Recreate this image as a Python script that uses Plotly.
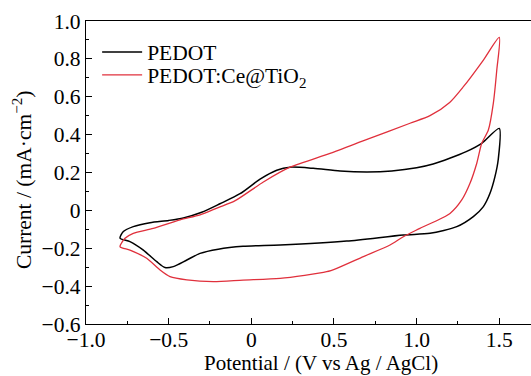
import plotly.graph_objects as go

# PEDOT cyclic voltammogram (loop order)
pedot_x = [-0.794, -0.774, -0.714, -0.613, -0.5, -0.411, -0.3, -0.19, -0.068, 0.053, 0.154, 0.234,
           0.375, 0.537, 0.7, 0.85, 1.0, 1.1, 1.2, 1.3, 1.394, 1.5,
           1.494, 1.474, 1.444, 1.404, 1.343, 1.243, 1.081, 0.92, 0.577, 0.174, -0.05,
           -0.2, -0.31, -0.39, -0.472, -0.522, -0.572, -0.653, -0.734, -0.794]
pedot_y = [-0.147, -0.112, -0.086, -0.065, -0.053, -0.04, -0.01, 0.035, 0.088, 0.165, 0.212, 0.228,
           0.222, 0.208, 0.203, 0.208, 0.225, 0.245, 0.275, 0.31, 0.354, 0.433,
           0.27, 0.178, 0.09, 0.02, -0.033, -0.086, -0.121, -0.13, -0.162, -0.183, -0.19,
           -0.205, -0.227, -0.262, -0.297, -0.302, -0.271, -0.21, -0.165, -0.147]

# PEDOT:Ce@TiO2 cyclic voltammogram (loop order)
ce_x = [-0.794, -0.764, -0.714, -0.593, -0.431, -0.31, -0.2, -0.1, 0.073, 0.234, 0.476, 0.7,
        0.96, 1.081, 1.2, 1.283, 1.404, 1.5,
        1.485, 1.464, 1.434, 1.394, 1.364, 1.323, 1.273, 1.202, 1.02, 0.92, 0.839, 0.678,
        0.517, 0.456, 0.174, -0.05, -0.23, -0.39, -0.492, -0.552, -0.633, -0.734, -0.794]
ce_y = [-0.192, -0.147, -0.121, -0.095, -0.05, -0.024, 0.015, 0.05, 0.15, 0.228, 0.301, 0.375,
        0.46, 0.5, 0.57, 0.653, 0.794, 0.914,
        0.741, 0.565, 0.424, 0.354, 0.249, 0.143, 0.055, -0.016, -0.095, -0.139, -0.183, -0.244,
        -0.306, -0.324, -0.359, -0.368, -0.376, -0.367, -0.35, -0.315, -0.253, -0.21, -0.192]

x_tickvals = [-1.0, -0.5, 0, 0.5, 1.0, 1.5]
x_ticktext = ["\u22121.0", "\u22120.5", "0", "0.5", "1.0", "1.5"]
x_minor = [-0.75, -0.25, 0.25, 0.75, 1.25]
y_tickvals = [-0.6, -0.4, -0.2, 0, 0.2, 0.4, 0.6, 0.8, 1.0]
y_ticktext = ["\u22120.6", "\u22120.4", "\u22120.2", "0", "0.2", "0.4", "0.6", "0.8", "1.0"]

x_title = "Potential / (V vs Ag / AgCl)"
y_title = "Current / (mA\u00b7cm<sup>\u22122</sup>)"

FONT = "Liberation Serif"
FS = 21.5

fig = go.Figure()
fig.add_trace(go.Scatter(x=pedot_x, y=pedot_y, mode="lines", name="PEDOT", legend="legend",
                         line=dict(color="black", width=1.5, shape="spline", smoothing=0.7)))
fig.add_trace(go.Scatter(x=ce_x, y=ce_y, mode="lines", name="PEDOT:Ce@TiO<sub>2</sub>", legend="legend2",
                         line=dict(color="#e0303c", width=1.3, shape="spline", smoothing=0.7)))

legend_common = dict(x=0.025, xanchor="left", yanchor="top", bgcolor="rgba(0,0,0,0)",
                     font=dict(family=FONT, size=FS), itemwidth=40)

fig.update_layout(
    width=531, height=376,
    margin=dict(l=86, r=0, t=21, b=52),
    plot_bgcolor="white", paper_bgcolor="white",
    font=dict(family=FONT, size=FS, color="black"),
    showlegend=True,
    legend=dict(y=0.965, **legend_common),
    legend2=dict(y=0.890, **legend_common),
    xaxis=dict(range=[-1.0, 1.692], tickvals=x_tickvals, ticktext=x_ticktext,
               showline=True, linecolor="black", linewidth=1.3, mirror=True,
               ticks="inside", ticklen=6, tickwidth=1, tickcolor="black",
               ticklabelstandoff=-4,
               minor=dict(tickvals=x_minor, ticks="inside", ticklen=3,
                          tickcolor="black", showgrid=False),
               showgrid=False, zeroline=False),
    yaxis=dict(range=[-0.6, 1.0], tickvals=y_tickvals, ticktext=y_ticktext,
               showline=True, linecolor="black", linewidth=1.3, mirror=False,
               ticks="inside", ticklen=6, tickwidth=1, tickcolor="black",
               minor=dict(dtick=0.1, ticks="inside", ticklen=3, tickcolor="black", showgrid=False),
               showgrid=False, zeroline=False),
    annotations=[
        dict(text=x_title, xref="paper", yref="paper", x=0.528, y=-0.1287,
             xanchor="center", yanchor="middle", showarrow=False,
             font=dict(family=FONT, size=21)),
        dict(text=y_title, xref="paper", yref="paper", x=-0.1438, y=0.475,
             xanchor="center", yanchor="middle", textangle=-90, showarrow=False,
             font=dict(family=FONT, size=FS)),
    ],
)

fig.write_html("out.html")
